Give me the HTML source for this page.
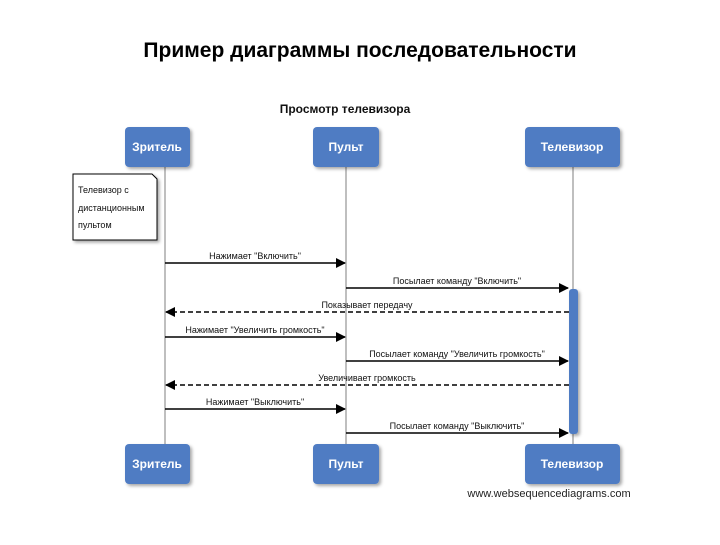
<!DOCTYPE html>
<html><head><meta charset="utf-8"><style>
body{margin:0;width:720px;height:540px;background:#fff;overflow:hidden;font-family:"Liberation Sans",sans-serif}
</style></head><body>
<svg width="720" height="540" xmlns="http://www.w3.org/2000/svg" font-family="Liberation Sans, sans-serif">
<defs>
<marker id="a" markerWidth="10" markerHeight="10" refX="9" refY="5" orient="auto" markerUnits="userSpaceOnUse"><path d="M0,0 L10,5 L0,10z" fill="#000"/></marker>
<filter id="s" x="-20%" y="-20%" width="150%" height="150%"><feDropShadow dx="2" dy="2" stdDeviation="1.5" flood-color="#000" flood-opacity="0.35"/></filter>
</defs>
<text x="360" y="57" text-anchor="middle" font-size="21" font-weight="bold" fill="#000">Пример диаграммы последовательности</text>
<text x="345" y="113" text-anchor="middle" font-size="12" font-weight="bold" fill="#111">Просмотр телевизора</text>
<g stroke="#aaa" stroke-width="1.5">
<line x1="165" y1="167" x2="165" y2="444"/><line x1="346" y1="167" x2="346" y2="444"/><line x1="573" y1="167" x2="573" y2="444"/>
</g>
<g fill="#4f7cc3" filter="url(#s)">
<rect x="125" y="127" width="65" height="40" rx="4"/><rect x="313" y="127" width="66" height="40" rx="4"/><rect x="525" y="127" width="95" height="40" rx="4"/>
<rect x="125" y="444" width="65" height="40" rx="4"/><rect x="313" y="444" width="66" height="40" rx="4"/><rect x="525" y="444" width="95" height="40" rx="4"/>
<rect x="569" y="289" width="9" height="145" rx="3"/>
</g>
<g fill="#fff" font-size="12" font-weight="bold" text-anchor="middle">
<text x="157" y="151">Зритель</text><text x="346" y="151">Пульт</text><text x="572" y="151">Телевизор</text>
<text x="157" y="468">Зритель</text><text x="346" y="468">Пульт</text><text x="572" y="468">Телевизор</text>
</g>
<path d="M73,174 H152 L157,179 V240 H73Z" fill="#fff" stroke="#000" stroke-width="1" filter="url(#s)"/>
<g font-size="9" fill="#111"><text x="78" y="193">Телевизор с</text><text x="78" y="211">дистанционным</text><text x="78" y="228">пультом</text></g>
<g stroke="#000" stroke-width="1.5" fill="none" marker-end="url(#a)">
<line x1="165" y1="263" x2="345" y2="263"/>
<line x1="346" y1="288" x2="568" y2="288"/>
<line x1="569" y1="312" x2="166" y2="312" stroke-dasharray="5,3"/>
<line x1="165" y1="337" x2="345" y2="337"/>
<line x1="346" y1="361" x2="568" y2="361"/>
<line x1="569" y1="385" x2="166" y2="385" stroke-dasharray="5,3"/>
<line x1="165" y1="409" x2="345" y2="409"/>
<line x1="346" y1="433" x2="568" y2="433"/>
</g>
<g font-size="9" fill="#111" text-anchor="middle">
<text x="255" y="259">Нажимает "Включить"</text>
<text x="457" y="284">Посылает команду "Включить"</text>
<text x="367" y="308">Показывает передачу</text>
<text x="255" y="333">Нажимает "Увеличить громкость"</text>
<text x="457" y="357">Посылает команду "Увеличить громкость"</text>
<text x="367" y="381">Увеличивает громкость</text>
<text x="255" y="405">Нажимает "Выключить"</text>
<text x="457" y="429">Посылает команду "Выключить"</text>
</g>
<text x="549" y="497" text-anchor="middle" font-size="11" fill="#222">www.websequencediagrams.com</text>
</svg>
</body></html>
